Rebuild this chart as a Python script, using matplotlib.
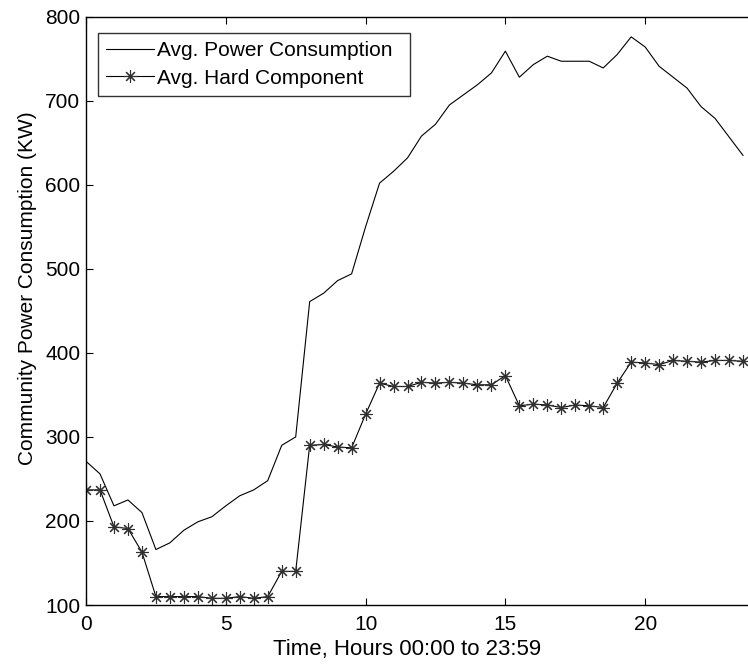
import matplotlib
matplotlib.use("Agg")
import matplotlib.pyplot as plt

plt.rcParams["font.family"] = ["Liberation Sans", "DejaVu Sans"]

# half-hour samples over one day
hours = [i * 0.5 for i in range(48)]

avg_power = [
    271, 256, 218, 225, 210, 166, 174, 189, 199, 205, 218, 230,
    237, 248, 290, 300, 461, 471, 486, 494, 550, 602, 616, 632,
    658, 672, 695, 707, 719, 733, 759, 728, 743, 753, 747, 747,
    747, 739, 755, 776, 764, 741, 728, 715, 693, 679, 657, 635,
]

avg_hard = [
    237, 237, 193, 191, 163, 110, 110, 110, 110, 108, 108, 110,
    108, 110, 140, 140, 290, 291, 288, 287, 327, 364, 360, 360,
    365, 364, 365, 364, 362, 362, 373, 337, 339, 338, 335, 338,
    337, 335, 364, 389, 388, 386, 391, 390, 389, 391, 391, 390,
]

x_ticks = [0, 5, 10, 15, 20]
y_ticks = [100, 200, 300, 400, 500, 600, 700, 800]

fig = plt.figure(figsize=(7.48, 6.65), dpi=100)
ax = fig.add_axes([0.115, 0.0902, 0.897, 0.8847])

ax.plot(hours, avg_power, color="black", linewidth=0.8, label="Avg. Power Consumption")
ax.plot(hours, avg_hard, color="black", linewidth=0.8, marker=(8, 2, 0), markersize=9,
        markeredgewidth=0.8, markeredgecolor="#303030", label="Avg. Hard Component")

ax.set_xlim(0, 24)
ax.set_ylim(100, 800)
ax.set_xticks(x_ticks)
ax.set_yticks(y_ticks)
ax.tick_params(direction="in", length=5, width=0.8, labelsize=15, top=True, right=True)
ax.tick_params(axis="x", pad=7)
ax.tick_params(axis="y", pad=4)
for s in ax.spines.values():
    s.set_linewidth(1.0)

ax.set_xlabel("Time, Hours 00:00 to 23:59", fontsize=16)
ax.xaxis.set_label_coords(0.4785, -0.057)
ax.set_ylabel("Community Power Consumption (KW)", fontsize=15)
ax.yaxis.set_label_coords(-0.073, 0.539)

leg = ax.legend(loc="upper left", bbox_to_anchor=(0.0179, 0.8723, 0.465, 0.1), mode="expand",
                borderaxespad=0, fontsize=15, frameon=True, fancybox=False,
                edgecolor="black", borderpad=0.4, handlelength=2.3, handletextpad=0.15,
                labelspacing=0.4)
leg.get_frame().set_linewidth(1.0)

fig.savefig("out.png", dpi=100)
